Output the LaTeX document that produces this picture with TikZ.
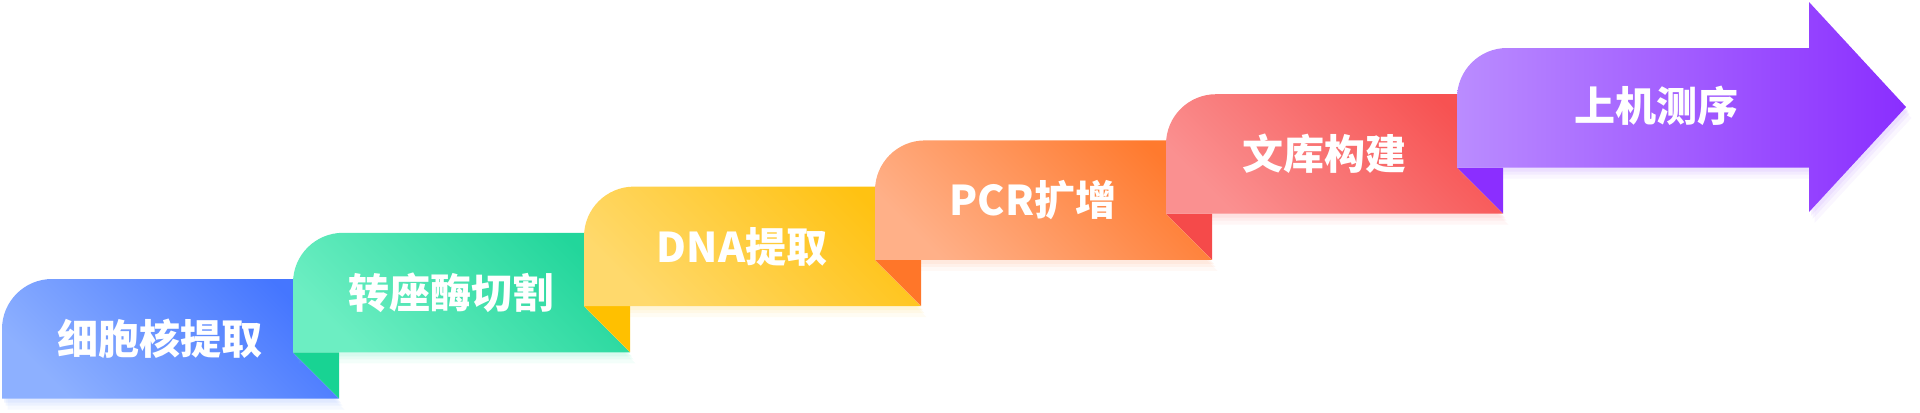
\documentclass[tikz,border=0pt]{standalone}
\usepackage{fontspec}
\newfontfamily\cjk{Noto Sans CJK SC}
\definecolor{bl}{HTML}{8DB0FF}\definecolor{bd}{HTML}{4576FF}
\definecolor{gl}{HTML}{6CEEC2}\definecolor{gd}{HTML}{22D69B}\definecolor{gf}{HTML}{18D393}
\definecolor{yl}{HTML}{FFD96C}\definecolor{yd}{HTML}{FFC212}\definecolor{yf}{HTML}{FFC000}
\definecolor{ol}{HTML}{FFB088}\definecolor{od}{HTML}{FF7A2E}\definecolor{of}{HTML}{FF7629}
\definecolor{rl}{HTML}{FA9090}\definecolor{rd}{HTML}{F75252}\definecolor{rf}{HTML}{F54A4A}
\definecolor{pl}{HTML}{BA8CFF}\definecolor{pd}{HTML}{8A2EFF}\definecolor{pf}{HTML}{8B2EFF}
\tikzset{
  label text/.style={text=white,font=\cjk\bfseries\fontsize{20.5pt}{20.5pt}\selectfont,inner sep=0pt},
}
% #1 name, #2 left, #3 top, #4 light, #5 dark, #6 fold colour (or none), #7 text
\newcommand\ribbon[7]{%
  \foreach \s/\o in {11/0.08,7/0.10,4/0.12}{
    \fill[#4,opacity=\o,shift={(\s*0.5,\s)}] (#2,#3+119.5) -- (#2,#3+50) arc[start angle=180,end angle=270,radius=50] -- (#2+291,#3) -- (#2+291,#3+73.5) -- (#2+337,#3+119.5) -- cycle;
  }
  \ifx#6\relax\else
    \fill[#6] (#2,#3+119.5) -- (#2+46,#3+119.5) -- (#2+46,#3+165.5) -- cycle;
  \fi
  \shade[left color=#4,right color=#5,shading angle=135] (#2,#3+119.5) -- (#2,#3+50) arc[start angle=180,end angle=270,radius=50] -- (#2+291,#3) -- (#2+291,#3+73.5) -- (#2+337,#3+119.5) -- cycle;
  \node[label text] (#1) at (#2+158,#3+60) {#7};
}
\begin{document}
\begin{tikzpicture}[x=0.5pt,y=-0.5pt]
\useasboundingbox (0,0) rectangle (1920,412);
\ribbon{s1}{2}{279}{bl}{bd}{\relax}{细胞核提取}
\ribbon{s2}{293}{232.8}{gl}{gd}{gf}{转座酶切割}
\ribbon{s3}{584}{186.6}{yl}{yd}{yf}{DNA提取}
\ribbon{s4}{875}{140.4}{ol}{od}{of}{PCR扩增}
\ribbon{s5}{1166}{94.2}{rl}{rd}{rf}{文库构建}
% final arrow
\foreach \s/\o in {11/0.08,7/0.10,4/0.12}{
  \fill[pl,opacity=\o,shift={(\s*0.5,\s)}] (1457,167.5) -- (1457,98) arc[start angle=180,end angle=270,radius=50] -- (1809,48) -- (1809,2) -- (1906,107) -- (1809,212) -- (1809,167.5) -- cycle;
}
\fill[pf] (1457,167.5) -- (1503,167.5) -- (1503,213.5) -- cycle;
\shade[left color=pl,middle color=pl!75!pd,right color=pd] (1457,167.5) -- (1457,98) arc[start angle=180,end angle=270,radius=50] -- (1809,48) -- (1809,2) -- (1906,107) -- (1809,212) -- (1809,167.5) -- cycle;
\node[label text] (s6) at (1656,106) {上机测序};
\end{tikzpicture}
\end{document}
